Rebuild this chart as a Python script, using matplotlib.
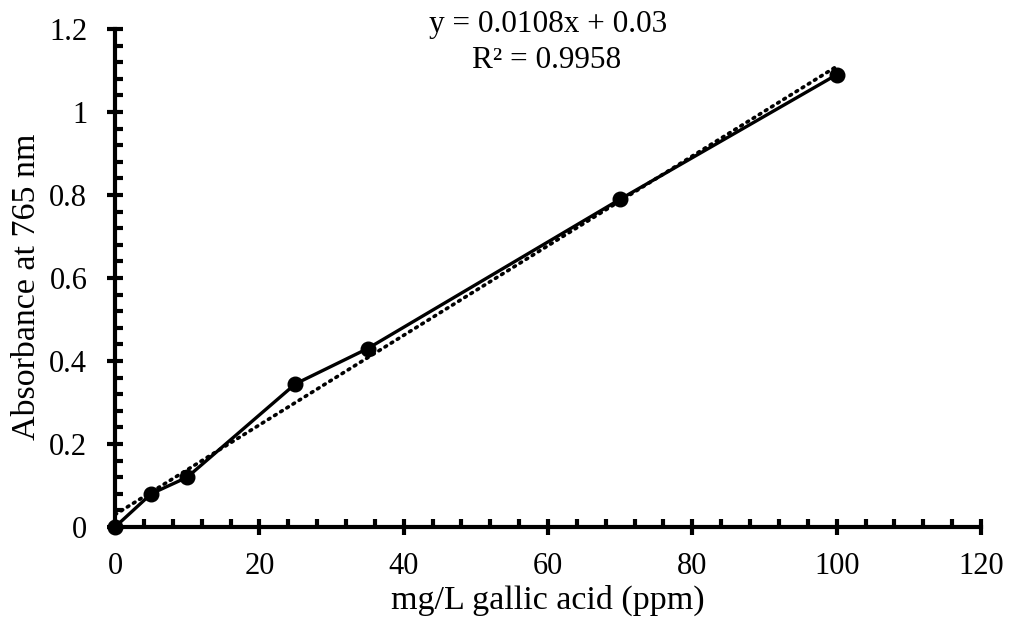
import matplotlib.pyplot as plt
import numpy as np
from matplotlib.ticker import MultipleLocator

plt.rcParams['font.family'] = ['Liberation Serif', 'DejaVu Serif']

# 数据
conc = [0, 5, 10, 25, 35, 70, 100]  # mg/L gallic acid
absorb = [0, 0.08, 0.12, 0.345, 0.43, 0.79, 1.09]
slope = 0.0108
intercept = 0.03
eq_label = 'y = 0.0108x + 0.03'
r2_label = 'R² = 0.9958'

fig = plt.figure(figsize=(10.1, 6.18), dpi=100)
ax = fig.add_axes([0.1139, 0.1472, 0.8574, 0.8058])

# 趋势线
xt = np.array([conc[0], conc[-1]])
ax.plot(xt, slope * xt + intercept, color='black', linestyle=(0, (0.5, 1.5)),
        linewidth=2.6, dash_capstyle='round', zorder=2)
# 数据线
ax.plot(conc, absorb, color='black', linewidth=2.4, marker='o', markersize=10.5, zorder=3,
        clip_on=False)

ax.set_xlim(0, 120)
ax.set_ylim(0, 1.2)
ax.xaxis.set_major_locator(MultipleLocator(20))
ax.xaxis.set_minor_locator(MultipleLocator(4))
ax.yaxis.set_major_locator(MultipleLocator(0.2))
ax.yaxis.set_minor_locator(MultipleLocator(0.04))
ax.yaxis.set_major_formatter(plt.FuncFormatter(lambda v, p: '%g' % round(v, 2)))

for s in ['top', 'right']:
    ax.spines[s].set_visible(False)
for s in ['left', 'bottom']:
    ax.spines[s].set_linewidth(3)

ax.tick_params(which='major', direction='inout', length=12, width=3, labelsize=22)
ax.tick_params(axis='x', which='major', pad=12)
ax.tick_params(axis='y', which='major', pad=14)
ax.tick_params(which='minor', direction='in', length=6, width=3)

ax.set_xlabel('mg/L gallic acid (ppm)', fontsize=24.5, labelpad=3)
ax.set_ylabel('Absorbance at 765 nm', fontsize=24.5)
ax.yaxis.set_label_coords(-0.084, 0.482)

# 趋势线公式
fig.text(0.543, 0.948, eq_label, ha='center', va='baseline', fontsize=22.5)
fig.text(0.541, 0.890, r2_label, ha='center', va='baseline', fontsize=22.5)

plt.savefig('out.png', dpi=100)
